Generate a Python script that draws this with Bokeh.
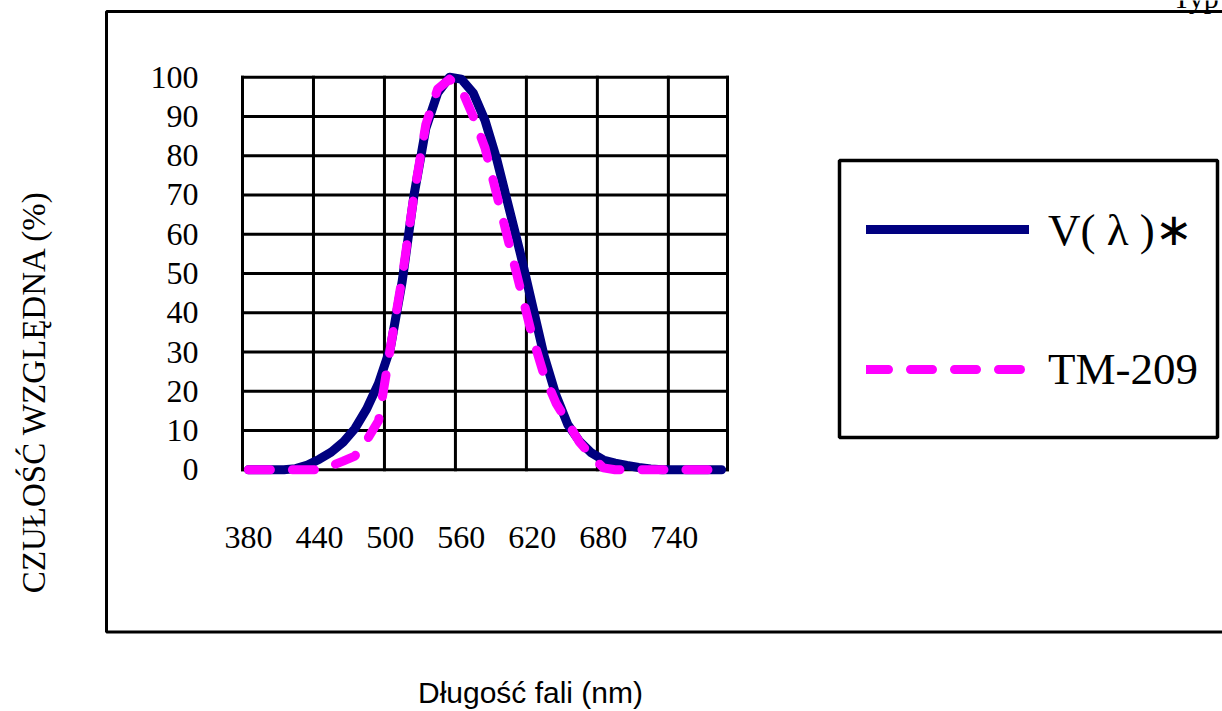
from bokeh.plotting import figure
from bokeh.models import (Range1d, FixedTicker, Label, BoxAnnotation, Legend,
                          LegendItem)
from bokeh.embed import file_html
from bokeh.resources import INLINE

# ---------------- data ----------------
wavelength = [380, 390, 400, 410, 420, 430, 440, 450, 460, 470, 480, 490, 500,
              510, 520, 530, 540, 550, 560, 570, 580, 590, 600, 610, 620, 630,
              640, 650, 660, 670, 680, 690, 700, 710, 720, 730, 740, 750, 760,
              770, 780]
v_lambda = [0, 0, 0, 0, 0.3, 1.2, 2.7, 4.5, 7, 10.5, 15.5, 22, 31,
            48, 70, 87, 96, 100, 99.5, 96, 89, 79, 67, 55, 42, 29,
            19, 11.5, 7.2, 4.3, 2.5, 1.7, 1.1, 0.6, 0.2, 0, 0, 0, 0,
            0, 0]
tm_209 = [0, 0, 0, 0, 0, 0, 0, 1, 2.2, 3.5, 7.5, 12.5, 31,
          49, 70, 88, 97, 99.5, 97, 90, 82, 70, 58, 46, 34, 24,
          17, 12, 7, 3.5, 0.5, 0, 0, 0, 0, 0, 0, 0, 0,
          0, 0]
series_names = ["V( λ )∗", "TM-209"]
x_tick_labels = [380, 440, 500, 560, 620, 680, 740]
y_ticks = [0, 10, 20, 30, 40, 50, 60, 70, 80, 90, 100]
y_title = "CZUŁOŚĆ WZGLĘDNA (%)"
x_title = "Długość fali (nm)"
corner_text = "Typ"

# ---------------- layout (canvas pixels) ----------------
W, H = 1222, 711
AREA_L, AREA_R, AREA_T, AREA_B = 242, 727, 76.7, 469.3   # plot-area box

half_cat = (wavelength[1] - wavelength[0]) / 2
x_lo = wavelength[0] - half_cat
x_hi = wavelength[-1] + half_cat
sx = (AREA_R - AREA_L) / (x_hi - x_lo)
y_lo, y_hi = y_ticks[0], y_ticks[-1]
sy = (AREA_B - AREA_T) / (y_hi - y_lo)

p = figure(width=W, height=H,
           x_range=Range1d(x_lo - AREA_L / sx, x_hi + (W - AREA_R) / sx),
           y_range=Range1d(y_lo - (H - AREA_B) / sy, y_hi + AREA_T / sy),
           output_backend="svg", toolbar_location=None, min_border=0)
p.background_fill_color = "white"
p.border_fill_color = "white"
p.outline_line_color = None
p.xgrid.grid_line_color = None
p.ygrid.grid_line_color = None

# pixel coordinate system for decorations
p.extra_x_ranges = {"px": Range1d(0, W)}
p.extra_y_ranges = {"px": Range1d(H, 0)}

# ---------------- outer frame ----------------
p.add_layout(BoxAnnotation(left=106, right=W + 60, top=11, bottom=631.5,
                           x_range_name="px", y_range_name="px",
                           fill_color=None, fill_alpha=0,
                           line_color="black", line_alpha=1,
                           line_width=3, level="underlay"))

# ---------------- grid (from tick arrays) ----------------
vx = [t - half_cat for t in x_tick_labels] + [x_hi]
p.segment(x0=vx, y0=[y_lo] * len(vx), x1=vx, y1=[y_hi] * len(vx),
          line_color="black", line_width=3, line_cap="square")
p.segment(x0=[x_lo] * len(y_ticks), y0=y_ticks, x1=[x_hi] * len(y_ticks),
          y1=y_ticks, line_color="black", line_width=3, line_cap="square")

# ---------------- series ----------------
r1 = p.line(wavelength, v_lambda, line_color="#000080", line_width=9,
            line_cap="round", line_join="round")
r2 = p.line(wavelength, tm_209, line_color="#FF00FF", line_width=9,
            line_dash="22 22", line_cap="round", line_join="round")

# ---------------- axes (drawn at the plot-area edges) ----------------
for ax in (p.xaxis[0], p.yaxis[0]):
    ax.axis_line_color = None
    ax.major_tick_line_color = None
    ax.minor_tick_line_color = None
    ax.major_tick_out = 0
    ax.major_tick_in = 0
    ax.major_label_text_font = "Liberation Serif"
    ax.major_label_text_font_size = "32px"
    ax.major_label_text_color = "black"
p.xaxis.ticker = FixedTicker(ticks=x_tick_labels)
p.yaxis.ticker = FixedTicker(ticks=y_ticks)
p.xaxis.fixed_location = y_lo
p.yaxis.fixed_location = x_lo
p.xaxis.major_label_standoff = 57
p.yaxis.major_label_standoff = 44

# ---------------- titles ----------------
p.add_layout(Label(x=33, y=391, x_range_name="px", y_range_name="px",
                   text=y_title, angle=90, angle_units="deg",
                   text_align="center", text_baseline="middle",
                   text_font="Liberation Serif", text_font_size="33px",
                   text_color="black"))
p.add_layout(Label(x=530, y=692, x_range_name="px", y_range_name="px",
                   text=x_title, text_align="center",
                   text_baseline="middle",
                   text_font="Liberation Sans", text_font_size="30px",
                   text_color="black"))
p.add_layout(Label(x=1172, y=-3, x_range_name="px", y_range_name="px",
                   text=corner_text, text_align="left",
                   text_baseline="middle",
                   text_font="Liberation Serif", text_font_size="30px",
                   text_color="black"))

# ---------------- legend ----------------
LG_L, LG_R, LG_T, LG_B = 839, 1217, 160, 437
p.add_layout(BoxAnnotation(left=LG_L, right=LG_R, top=LG_T, bottom=LG_B,
                           x_range_name="px", y_range_name="px",
                           fill_color=None, fill_alpha=0,
                           line_color="black", line_alpha=1,
                           line_width=3.5, level="underlay"))
legend = Legend(items=[LegendItem(label=series_names[0], renderers=[r1]),
                       LegendItem(label=series_names[1], renderers=[r2])],
                location=(866, 307),
                glyph_width=163, glyph_height=70, label_height=70,
                spacing=70, padding=33, margin=0, label_standoff=19,
                border_line_color=None, background_fill_alpha=0,
                label_text_font="Liberation Serif",
                label_text_baseline="hanging",
                label_text_font_size="45px", label_text_color="black")
p.add_layout(legend)

open("out.html", "w").write(file_html(p, INLINE))
